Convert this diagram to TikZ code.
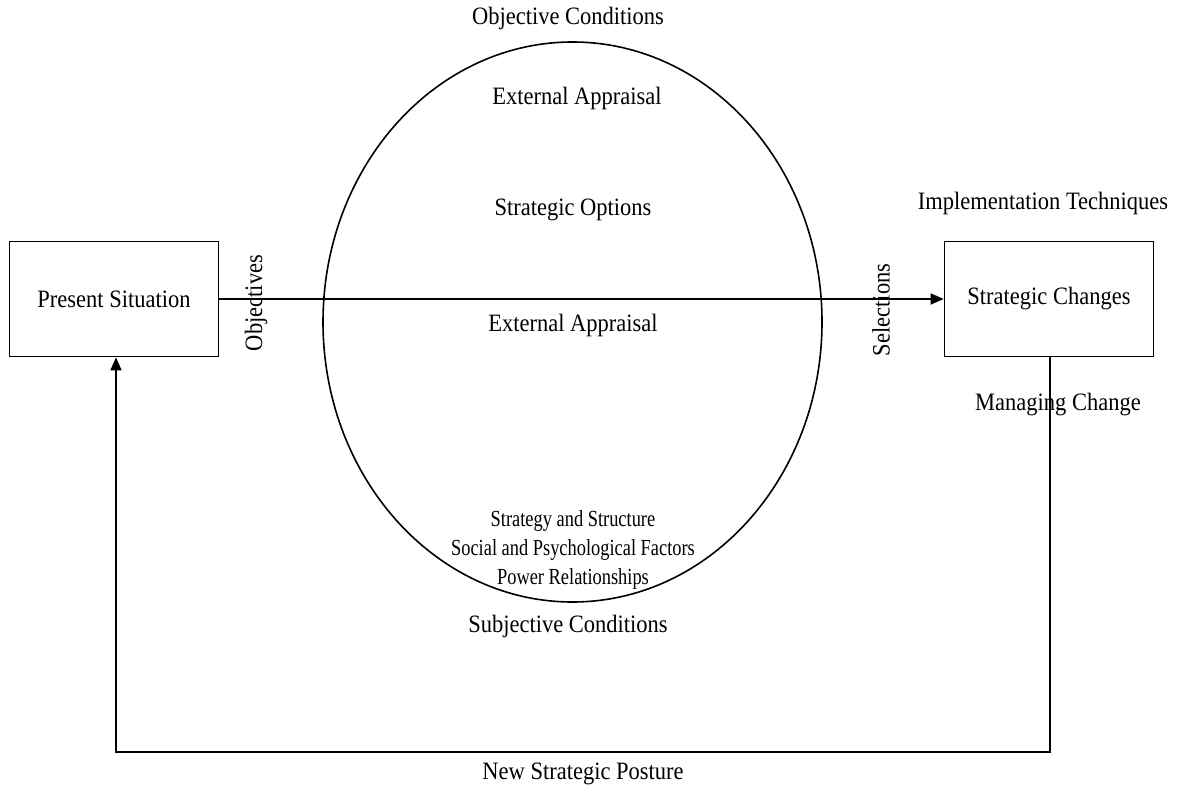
\documentclass[tikz,border=0pt]{standalone}
\usepackage{fontspec}
\setmainfont{Liberation Serif}[FakeStretch=0.9]
\newfontfamily\narrowserif{Liberation Serif}[FakeStretch=0.8]
\usetikzlibrary{arrows.meta}
\begin{document}
\begin{tikzpicture}[x=1pt,y=-1pt,
  every node/.style={font=\fontsize{25}{30}\selectfont, inner sep=0pt},
  smalltext/.style={font=\narrowserif\fontsize{23}{29}\selectfont},
  boxnode/.style={draw, line width=1.6pt, minimum width=209pt, minimum height=115pt},
  line/.style={line width=1.6pt},
  arr/.style={line width=1.6pt, -{Triangle[length=13pt,width=11pt]}}]
\useasboundingbox (0,0) rectangle (1180,789);
% boxes
\node[boxnode] (ps) at (114,299) {Present Situation};
\node[boxnode] (sc) at (1049,299) {Strategic Changes};
% central ellipse
\draw[line] (572.5,322) ellipse [x radius=249.5, y radius=280];
% main flow
\draw[arr] (ps.east) -- (sc.west);
% feedback loop
\coordinate (br) at (1050,752);
\coordinate (bl) at (116,752);
\draw[arr] (sc.south -| br) -- (br) -- (bl) -- (ps.south -| bl);
% labels
\node (oc) at (568,18) {Objective Conditions};
\node (ea1) at (577,98) {External Appraisal};
\node (so) at (573,210) {Strategic Options};
\node (ea2) at (573,325) {External Appraisal};
\node[smalltext, align=center] (ss) at (573,550) {Strategy and Structure\\Social and Psychological Factors\\Power Relationships};
\node (subc) at (568,626) {Subjective Conditions};
\node (it) at (1043,203) {Implementation Techniques};
\node (mc) at (1058,405) {Managing Change};
\node (nsp) at (583,774) {New Strategic Posture};
\node[rotate=90] (obj) at (256,303) {Objectives};
\node[rotate=90] (sel) at (881,310) {Selections};
\end{tikzpicture}
\end{document}
